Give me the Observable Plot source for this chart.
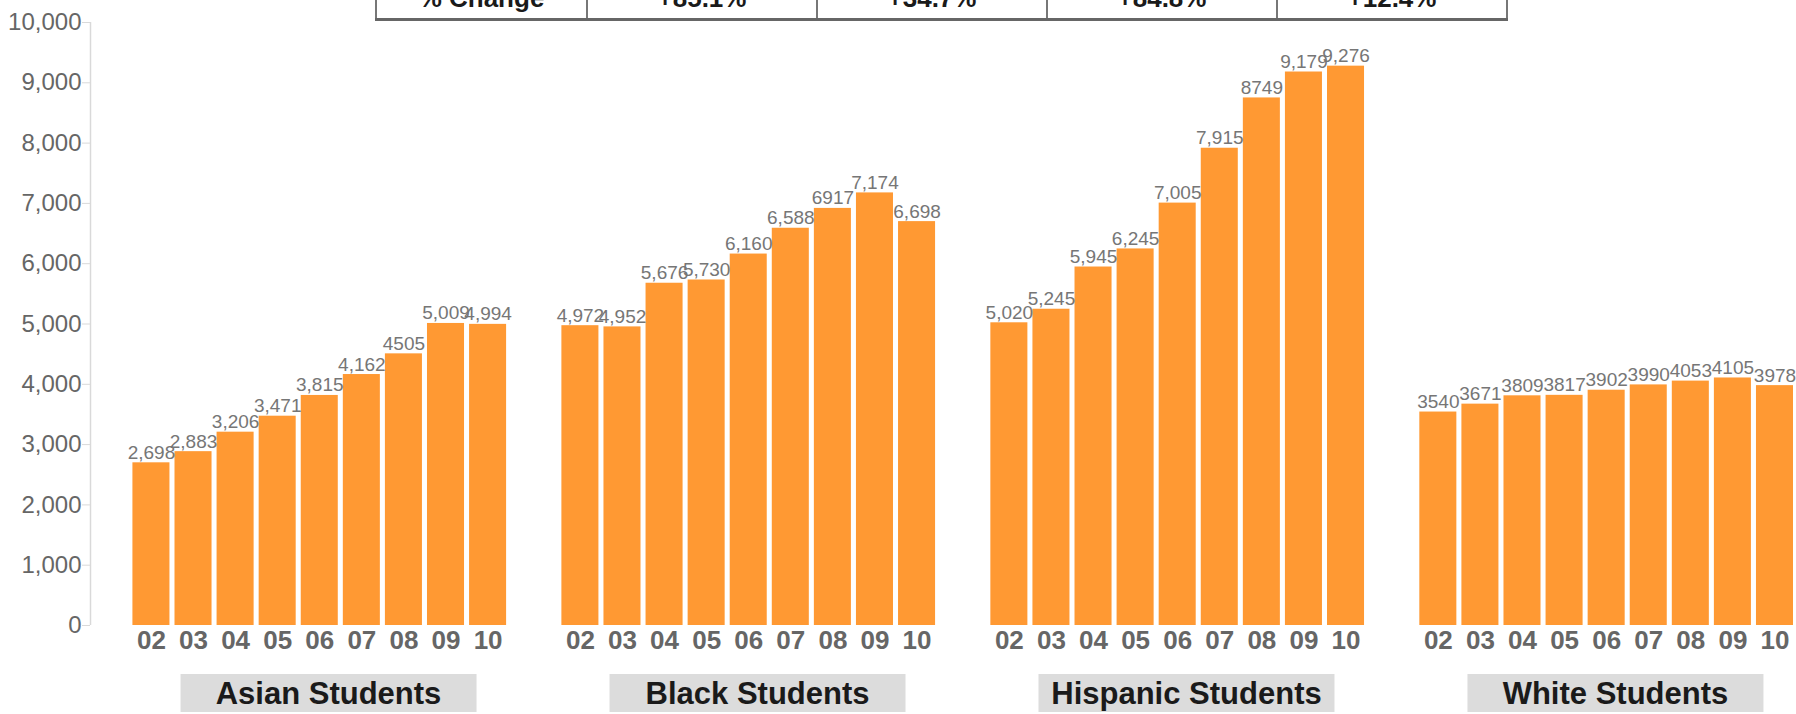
<!DOCTYPE html>
<html>
<head>
<meta charset="utf-8">
<script src="https://cdn.jsdelivr.net/npm/d3@7"></script>
<script src="https://cdn.jsdelivr.net/npm/@observablehq/plot@0.6"></script>
<style>
  html, body { margin: 0; padding: 0; background: #fff; }
  #wrap { position: relative; width: 1796px; height: 714px; overflow: hidden;
          font-family: "Liberation Sans", Arial, sans-serif; }
  #wrap svg { position: absolute; left: 0; top: 0; }
  #change { position: absolute; left: 375px; top: -22px; border-collapse: collapse;
            font-weight: bold; font-size: 26px; color: #1a1a1a; z-index: 2; }
  #change td { border-left: 2px solid #777; border-right: 2px solid #777;
               border-bottom: 3px solid #666; height: 40px; padding: 0; text-align: center; }
</style>
</head>
<body>
<div id="wrap"></div>
<script>
// School years (20xx) and student groups
const years = ["02", "03", "04", "05", "06", "07", "08", "09", "10"];
const groups = ["Asian Students", "Black Students", "Hispanic Students", "White Students"];

// Enrollment counts per year
const asian    = [2698, 2883, 3206, 3471, 3815, 4162, 4505, 5009, 4994];
const black    = [4972, 4952, 5676, 5730, 6160, 6588, 6917, 7174, 6698];
const hispanic = [5020, 5245, 5945, 6245, 7005, 7915, 8749, 9179, 9276];
const white    = [3540, 3671, 3809, 3817, 3902, 3990, 4053, 4105, 3978];

// Years whose value label is printed without a thousands separator
const asianPlain    = ["08"];
const blackPlain    = ["08"];
const hispanicPlain = ["08"];
const whitePlain    = years;

const yTicks = d3.range(0, 10001, 1000);

const series = [asian, black, hispanic, white];
const plain = [asianPlain, blackPlain, hispanicPlain, whitePlain];
const comma = d3.format(",");

const rows = groups.flatMap((g, i) => series[i].map((v, j) => ({
  group: g,
  year: years[j],
  value: v,
  label: plain[i].includes(years[j]) ? String(v) : comma(v)
})));

const wrap = document.getElementById("wrap");

// Percent change row (first year to last year)
const pct = d3.format("+.1%");
const table = document.createElement("table");
table.id = "change";
const tr = table.insertRow();
const head = tr.insertCell();
head.textContent = "% Change";
head.style.width = "209px";
series.forEach(s => {
  const td = tr.insertCell();
  td.textContent = pct(s[s.length - 1] / s[0] - 1);
  td.style.width = "228px";
});
wrap.appendChild(table);

const marginLeft = 90;
const font = "Liberation Sans, Arial, sans-serif";

const plot = Plot.plot({
  width: 1796,
  height: 714,
  marginTop: 22,
  marginBottom: 89,
  marginLeft,
  marginRight: 3,
  style: {fontFamily: font, background: "white"},
  fx: {domain: groups, paddingInner: 0.03, paddingOuter: 0, round: false, label: null},
  x: {domain: years, paddingInner: 0.12, paddingOuter: 0.504, align: 1, round: false, label: null},
  y: {domain: [0, 10000], label: null},
  marks: [
    Plot.barY(rows, {fx: "group", x: "year", y: "value", fill: "#ff9933"}),
    Plot.text(rows, {fx: "group", x: "year", y: "value", text: "label",
      lineAnchor: "bottom", dy: -4, fontSize: 19, fill: "#767676"}),
    Plot.axisY({ticks: yTicks, tickFormat: comma, tickSize: 8, tickPadding: 1,
      stroke: "#d9d9d9", fill: "#666", fontSize: 24, label: null}),
    Plot.axisX({tickSize: 0, tickPadding: 5, fontSize: 26, fontWeight: "bold",
      fill: "#666", label: null}),
    Plot.axisFx({anchor: "bottom", tickSize: 0, tickPadding: 56, fontSize: 31,
      fontWeight: "bold", fill: "#1a1a1a", dx: 30, label: null})
  ]
});
wrap.appendChild(plot);

// Vertical axis line along the left edge of the frame
const y = plot.scale("y");
d3.select(plot).append("line")
  .attr("x1", marginLeft + 0.5).attr("x2", marginLeft + 0.5)
  .attr("y1", y.apply(10000)).attr("y2", y.apply(0))
  .attr("stroke", "#d9d9d9").attr("stroke-width", 1.5);

// Grey plates behind the group names
const svgBox = plot.getBoundingClientRect();
const fxLabels = plot.querySelector('g[aria-label="fx-axis tick label"]');
if (fxLabels) {
  const plates = d3.create("svg:g");
  fxLabels.querySelectorAll("text").forEach(t => {
    const b = t.getBoundingClientRect();
    const cx = b.left - svgBox.left + b.width / 2;
    const cy = b.top - svgBox.top + b.height / 2;
    plates.append("rect")
      .attr("x", cx - 148).attr("y", cy - 19)
      .attr("width", 296).attr("height", 38)
      .attr("fill", "#dcdcdc");
  });
  fxLabels.parentNode.insertBefore(plates.node(), fxLabels);
}
</script>
</body>
</html>
